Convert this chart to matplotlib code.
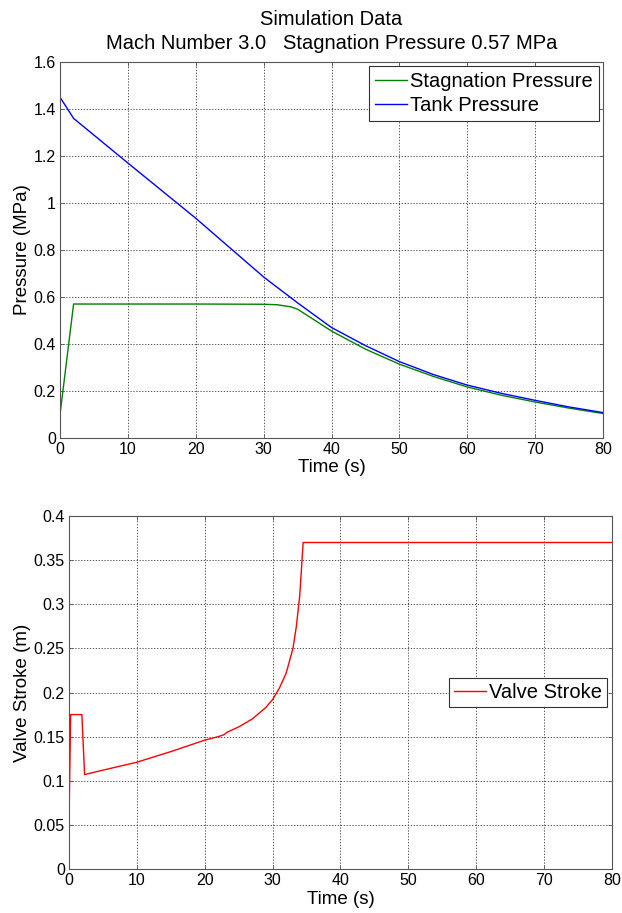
import numpy as np
import matplotlib.pyplot as plt
from matplotlib.ticker import FuncFormatter

plt.rcParams['font.family'] = ['Liberation Sans', 'DejaVu Sans']

# --- pressure data (MPa) ---
t_tank = [0, 2, 10, 20, 25, 30, 35, 40, 45, 50, 55, 60, 65, 70, 75, 80]
p_tank = [1.45, 1.36, 1.17, 0.935, 0.81, 0.685, 0.575, 0.47, 0.393, 0.325,
          0.27, 0.225, 0.19, 0.16, 0.132, 0.108]

t_stag = [0, 2, 10, 20, 30, 32, 34, 35, 40, 45, 50, 55, 60, 65, 70, 75, 80]
p_stag = [0.10, 0.57, 0.57, 0.57, 0.569, 0.567, 0.558, 0.548, 0.455, 0.378,
          0.314, 0.262, 0.217, 0.182, 0.153, 0.127, 0.104]

# --- valve stroke (m) ---
t_valve = [0, 0.05, 0.25, 1.9, 2.3, 5, 10, 15, 20, 22, 22.8, 23.3, 25, 27, 29,
           30, 31, 32, 33, 33.5, 34, 34.5, 80]
x_valve = [0, 0.078, 0.175, 0.175, 0.107, 0.112, 0.121, 0.133, 0.146, 0.150,
           0.152, 0.155, 0.161, 0.170, 0.183, 0.192, 0.205, 0.222, 0.250,
           0.275, 0.310, 0.370, 0.370]

fmt = FuncFormatter(lambda v, pos: '%g' % round(v, 4))


def style_axes(ax):
    ax.grid(True, color='#333333', linestyle=(0, (1.5, 2)), linewidth=0.6)
    for s in ax.spines.values():
        s.set_color('#555555')
        s.set_linewidth(0.8)
    ax.tick_params(direction='in', length=3, width=0.6, colors='#555555',
                   labelcolor='black', labelsize=11.5, top=True, right=True,
                   pad=3)
    ax.yaxis.set_major_formatter(fmt)
    ax.xaxis.set_major_formatter(fmt)


fig = plt.figure(figsize=(6.22, 9.13), dpi=100)

# top panel: pressures
ax1 = fig.add_axes([0.0965, 0.5203, 0.873, 0.4118])
ax1.plot(t_stag, p_stag, color='#008000', lw=1.0, label='Stagnation Pressure')
ax1.plot(t_tank, p_tank, color='#0000ff', lw=1.0, label='Tank Pressure')
ax1.set_xlim(0, 80)
ax1.set_ylim(0, 1.6)
ax1.set_xticks(np.arange(0, 81, 10))
ax1.set_yticks(np.arange(0, 1.61, 0.2))
style_axes(ax1)
ax1.set_xlabel('Time (s)', fontsize=13.5, labelpad=1)
ax1.set_ylabel('Pressure (MPa)', fontsize=13.5, labelpad=2)
ax1.set_title('Simulation Data\nMach Number 3.0   Stagnation Pressure 0.57 MPa',
              fontsize=14.5, pad=9, linespacing=1.35)
leg1 = ax1.legend(loc='upper right', fontsize=14.5, fancybox=False,
                  framealpha=1, edgecolor='#333333', handlelength=1.6,
                  handletextpad=0.15, borderpad=0.3, labelspacing=0.25,
                  borderaxespad=0.2)
leg1.get_frame().set_linewidth(0.8)

# bottom panel: valve stroke
ax2 = fig.add_axes([0.1109, 0.0482, 0.873, 0.3866])
ax2.plot(t_valve, x_valve, color='#ff0000', lw=1.0, label='Valve Stroke')
ax2.set_xlim(0, 80)
ax2.set_ylim(0, 0.4)
ax2.set_xticks(np.arange(0, 81, 10))
ax2.set_yticks(np.arange(0, 0.401, 0.05))
style_axes(ax2)
ax2.set_xlabel('Time (s)', fontsize=13.5, labelpad=2)
ax2.set_ylabel('Valve Stroke (m)', fontsize=13.5, labelpad=2)
leg2 = ax2.legend(loc='center right', fontsize=14.5, fancybox=False,
                  framealpha=1, edgecolor='#333333', handlelength=1.6,
                  handletextpad=0.15, borderpad=0.25, borderaxespad=0.25)
leg2.get_frame().set_linewidth(0.8)

fig.savefig('out.png', dpi=100)
